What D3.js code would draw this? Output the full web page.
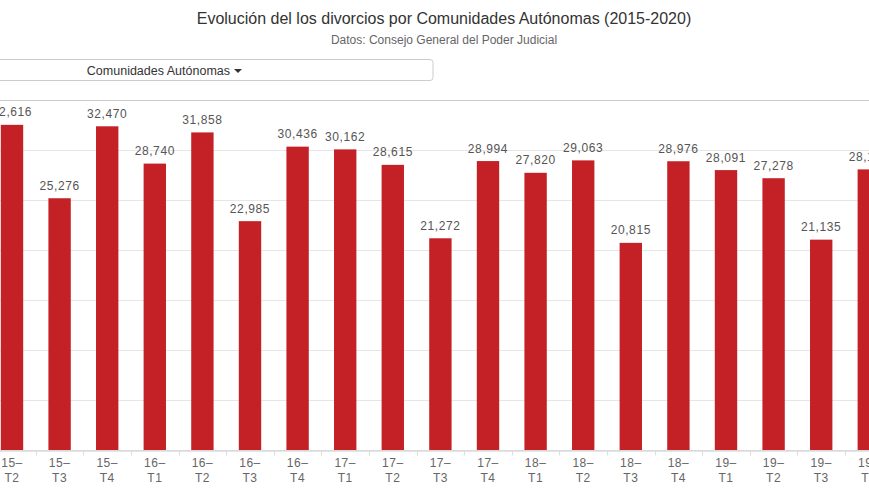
<!DOCTYPE html>
<meta charset="utf-8">
<head>
  <title>Divorcios por CCAA</title>
</head>
<style>
  body { margin: 0; background: #fff; }
  text { font-family: "Liberation Sans", Arial, sans-serif; }
  .title { font-size: 16px; fill: #333; text-anchor: middle; }
  .subtitle { font-size: 12px; fill: #666; text-anchor: middle; }
  .label { font-size: 12px; fill: #555; text-anchor: middle; letter-spacing: 0.6px; }
  .tick text { font-size: 12px; fill: #666; letter-spacing: 0.5px; }
</style>
<body>
<script src="https://d3js.org/d3.v7.min.js"></script>
<div id="chart"></div>
<script>

var categories = ["15-T2", "15-T3", "15-T4", "16-T1", "16-T2", "16-T3", "16-T4",
  "17-T1", "17-T2", "17-T3", "17-T4", "18-T1", "18-T2", "18-T3", "18-T4",
  "19-T1", "19-T2", "19-T3", "19-T4"];

var divorcios = [32616, 25276, 32470, 28740, 31858, 22985, 30436,
  30162, 28615, 21272, 28994, 27820, 29063, 20815, 28976,
  28091, 27278, 21135, 28160];

var yTicks = [0, 5000, 10000, 15000, 20000, 25000, 30000, 35000];

var width = 869, height = 489;

var svg = d3.select("#chart")
  .append("svg")
  .attr("width", width)
  .attr("height", height);

svg.append("text")
  .attr("class", "title")
  .attr("x", 444)
  .attr("y", 24)
  .text("Evolución del los divorcios por Comunidades Autónomas (2015-2020)");

svg.append("text")
  .attr("class", "subtitle")
  .attr("x", 444)
  .attr("y", 44)
  .text("Datos: Consejo General del Poder Judicial");

// dropdown button
svg.append("rect")
  .attr("x", -99)
  .attr("y", 59.5)
  .attr("width", 532)
  .attr("height", 21)
  .attr("rx", 3)
  .attr("fill", "#fff")
  .attr("stroke", "#ccc");

svg.append("text")
  .attr("x", 230)
  .attr("y", 74.5)
  .attr("text-anchor", "end")
  .style("font-size", "12.5px")
  .style("fill", "#333")
  .text("Comunidades Autónomas");

svg.append("path")
  .attr("d", "M234,69 L242,69 L238,73 Z")
  .attr("fill", "#333");

var step = 47.6;
var x = d3.scaleBand()
  .domain(categories)
  .range([12 - step / 2, 12 - step / 2 + step * categories.length])
  .paddingInner(0.53)
  .paddingOuter(0.265);

var y = d3.scaleLinear()
  .domain([0, 35000])
  .range([451, 101]);

// grid
svg.append("g")
  .selectAll("line")
  .data(yTicks)
  .enter()
  .append("line")
  .attr("x1", 0)
  .attr("x2", width)
  .attr("y1", function(d) { return Math.round(y(d)) - 0.5; })
  .attr("y2", function(d) { return Math.round(y(d)) - 0.5; })
  .attr("stroke", function(d) { return d === 35000 ? "#ccc" : "#e6e6e6"; });

svg.append("g")
  .selectAll("rect")
  .data(divorcios)
  .enter()
  .append("rect")
  .attr("x", function(d, i) { return x(categories[i]); })
  .attr("y", function(d) { return y(d); })
  .attr("width", x.bandwidth())
  .attr("height", function(d) { return y(0) - 1 - y(d); })
  .attr("fill", "#c42127");

svg.append("g")
  .selectAll("text")
  .data(divorcios)
  .enter()
  .append("text")
  .attr("class", "label")
  .attr("x", function(d, i) { return x(categories[i]) + x.bandwidth() / 2; })
  .attr("y", function(d) { return y(d) - 8.5; })
  .text(function(d) { return d3.format(",")(d); });

// x axis
var xAxis = svg.append("g")
  .attr("transform", "translate(0,450.5)")
  .call(d3.axisBottom(x).tickSize(0).tickPadding(8));

xAxis.select(".domain").attr("stroke", "#ccc");

xAxis.selectAll(".tick text")
  .attr("dy", "0.71em")
  .text(null)
  .each(function(d) {
    var parts = d.split("-");
    var t = d3.select(this);
    t.append("tspan").attr("x", 0).text(parts[0] + "–");
    t.append("tspan").attr("x", 0).attr("dy", 15).text(parts[1]);
  });

// tick marks between categories
xAxis.selectAll(".sep")
  .data(categories)
  .enter()
  .append("line")
  .attr("class", "sep")
  .attr("x1", function(d) { return Math.round(x(d) - x.step() * x.paddingInner() / 2) + 0.5; })
  .attr("x2", function(d) { return Math.round(x(d) - x.step() * x.paddingInner() / 2) + 0.5; })
  .attr("y1", 0)
  .attr("y2", 5)
  .attr("stroke", "#ddd");

</script>
</body>
</html>
